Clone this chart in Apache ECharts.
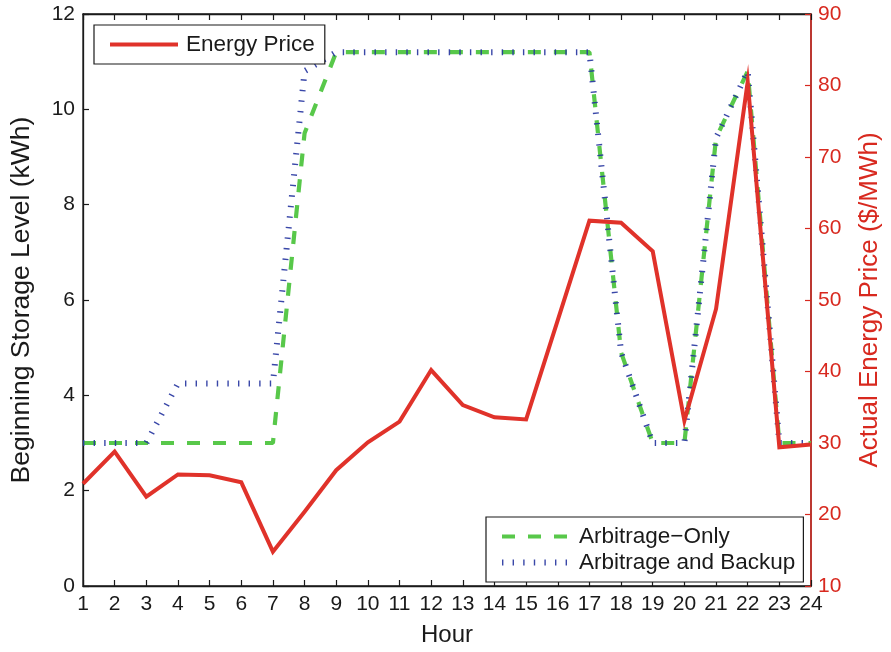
<!DOCTYPE html>
<html>
<head>
<meta charset="utf-8">
<script src="https://cdn.jsdelivr.net/npm/echarts@6/dist/echarts.min.js"></script>
<style>
  html, body { margin: 0; padding: 0; background: #fff; }
  #chart { width: 891px; height: 652px; }
</style>
</head>
<body>
<div id="chart"></div>
<script>
const hours = [1,2,3,4,5,6,7,8,9,10,11,12,13,14,15,16,17,18,19,20,21,22,23,24];
const xTicks = [1,2,3,4,5,6,7,8,9,10,11,12,13,14,15,16,17,18,19,20,21,22,23,24];
const leftTicks = [0,2,4,6,8,10,12];
const rightTicks = [10,20,30,40,50,60,70,80,90];
const energyPrice = [24.3,28.8,22.5,25.6,25.5,24.5,14.8,20.4,26.2,30.1,33.0,40.2,35.3,33.6,33.3,47.2,61.1,60.8,56.8,33.1,48.75,80.5,29.4,29.8];
const arbitrageOnly = [3,3,3,3,3,3,3,9.5,11.2,11.2,11.2,11.2,11.2,11.2,11.2,11.2,11.2,4.9,3,3,9.4,10.8,3,3];
const arbitrageBackup = [3,3,3,4.25,4.25,4.25,4.25,10.8,11.2,11.2,11.2,11.2,11.2,11.2,11.2,11.2,11.2,4.9,3,3,9.4,10.8,3,3];

const pair = (xs, ys) => xs.map((x, i) => [x, ys[i]]);
const FONT = 'Liberation Sans, Arial, Helvetica, sans-serif';
const RED = '#e0322a';
const AXRED = '#d8291f';
const GREEN = '#58c84a';
const BLUE = '#24339e';

const legendCommon = {
  orient: 'vertical',
  backgroundColor: '#fff',
  borderColor: '#1a1a1a', borderWidth: 1.2, borderRadius: 0,
  itemStyle: { opacity: 0, borderWidth: 0 },
  lineStyle: { width: 'inherit', type: 'inherit', cap: 'butt' },
  textStyle: { fontFamily: FONT, fontSize: 22.5, color: '#1a1a1a', padding: [0, 0, 0, 3] }
};

const chart = echarts.init(document.getElementById('chart'), null, { renderer: 'canvas' });
chart.setOption({
  animation: false,
  backgroundColor: '#fff',
  textStyle: { fontFamily: FONT },
  grid: { left: 83, right: 75, top: 14, bottom: 60, show: true, borderColor: '#1a1a1a', borderWidth: 1.3, containLabel: false },
  legend: [
    Object.assign({}, legendCommon, {
      data: ['Energy Price'],
      left: 94, top: 25,
      padding: [8, 10, 8, 14],
      itemWidth: 68, itemHeight: 20
    }),
    Object.assign({}, legendCommon, {
      data: ['Arbitrage\u2212Only', 'Arbitrage and Backup'],
      left: 486, top: 517,
      padding: [8, 8, 8, 13],
      itemGap: 3,
      itemWidth: 69, itemHeight: 20
    })
  ],
  xAxis: [
    {
      type: 'value', min: 1, max: 24, interval: 1, position: 'bottom',
      name: 'Hour', nameLocation: 'middle', nameGap: 37,
      nameTextStyle: { fontFamily: FONT, fontSize: 24, color: '#1a1a1a' },
      axisLine: { show: true, onZero: false, lineStyle: { color: '#1a1a1a', width: 1.3 } },
      axisTick: { show: true, inside: true, length: 6, lineStyle: { color: '#1a1a1a', width: 1.2 } },
      axisLabel: { show: true, margin: 8, fontFamily: FONT, fontSize: 21, color: '#1a1a1a',
        formatter: v => xTicks.includes(v) ? String(v) : '' },
      splitLine: { show: false }
    },
    {
      type: 'value', min: 1, max: 24, interval: 1, position: 'top',
      axisLine: { show: true, onZero: false, lineStyle: { color: '#1a1a1a', width: 1.3 } },
      axisTick: { show: true, inside: true, length: 6, lineStyle: { color: '#1a1a1a', width: 1.2 } },
      axisLabel: { show: false },
      splitLine: { show: false }
    }
  ],
  yAxis: [
    {
      type: 'value', min: 0, max: 12, interval: 2, position: 'left',
      name: 'Beginning Storage Level (kWh)', nameLocation: 'middle', nameGap: 48,
      nameTextStyle: { fontFamily: FONT, fontSize: 26.5, color: '#1a1a1a' },
      axisLine: { show: true, onZero: false, lineStyle: { color: '#1a1a1a', width: 1.3 } },
      axisTick: { show: true, inside: true, length: 6, lineStyle: { color: '#1a1a1a', width: 1.2 } },
      axisLabel: { show: true, margin: 8, fontFamily: FONT, fontSize: 21, color: '#1a1a1a',
        formatter: v => leftTicks.includes(v) ? String(v) : '' },
      splitLine: { show: false }
    },
    {
      type: 'value', min: 10, max: 90, interval: 10, position: 'right',
      name: 'Actual Energy Price ($/MWh)', nameLocation: 'middle', nameGap: 46,
      nameTextStyle: { fontFamily: FONT, fontSize: 26, color: AXRED },
      axisLine: { show: true, onZero: false, lineStyle: { color: AXRED, width: 1.5 } },
      axisTick: { show: true, inside: true, length: 6, lineStyle: { color: AXRED, width: 1.2 } },
      axisLabel: { show: true, margin: 7, fontFamily: FONT, fontSize: 21, color: AXRED,
        formatter: v => rightTicks.includes(v) ? String(v) : '' },
      splitLine: { show: false }
    }
  ],
  series: [
    {
      name: 'Arbitrage\u2212Only', type: 'line', xAxisIndex: 0, yAxisIndex: 0,
      data: pair(hours, arbitrageOnly), symbol: 'none', z: 2,
      lineStyle: { color: GREEN, width: 4.2, type: [13, 13], cap: 'butt' },
      itemStyle: { color: GREEN }
    },
    {
      name: 'Arbitrage and Backup', type: 'line', xAxisIndex: 0, yAxisIndex: 0,
      data: pair(hours, arbitrageBackup), symbol: 'none', z: 3,
      lineStyle: { color: BLUE, width: 6, type: [1.4, 9.2], cap: 'butt', opacity: 0.9 },
      itemStyle: { color: BLUE }
    },
    {
      name: 'Energy Price', type: 'line', xAxisIndex: 0, yAxisIndex: 1,
      data: pair(hours, energyPrice), symbol: 'none', z: 4,
      lineStyle: { color: RED, width: 4, join: 'miter' },
      itemStyle: { color: RED }
    }
  ]
});
</script>
</body>
</html>
